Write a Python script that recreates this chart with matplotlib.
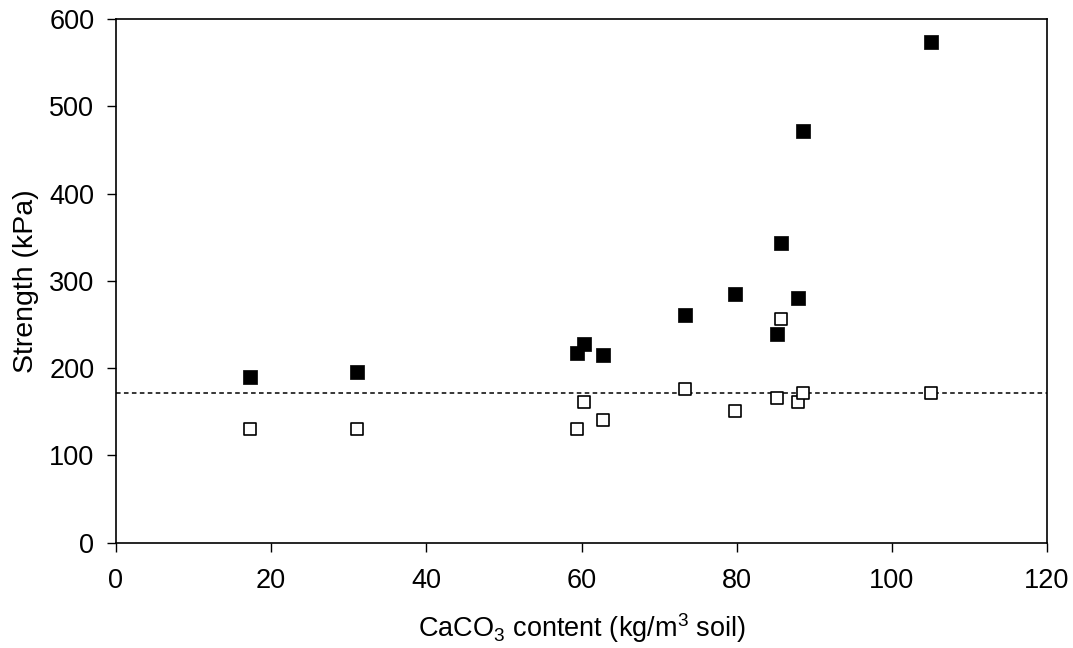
import matplotlib
matplotlib.use("Agg")
import matplotlib.pyplot as plt

plt.rcParams['font.family'] = ['Liberation Sans', 'DejaVu Sans']
plt.rcParams['mathtext.default'] = 'regular'

# CaCO3 content (kg/m3 soil)
caco3 = [17.3, 31.0, 59.4, 60.3, 62.8, 73.4, 79.8, 85.2, 85.7, 87.9, 88.5, 105.1]
# Strength (kPa) - filled squares
strength_filled = [190, 196, 217, 228, 215, 261, 285, 239, 343, 280, 472, 574]
# Strength (kPa) - open squares
strength_open = [130, 130, 130, 161, 141, 176, 151, 166, 256, 161, 171, 171]
# Horizontal dashed reference level
ref_level = 171

x_ticks = [0, 20, 40, 60, 80, 100, 120]
y_ticks = [0, 100, 200, 300, 400, 500, 600]

fig = plt.figure(figsize=(10.73, 6.48), dpi=100)
ax = fig.add_axes([0.1081, 0.1625, 0.8677, 0.8082])

ax.axhline(ref_level, color='black', linestyle=(0, (3, 2.2)), linewidth=1.1, zorder=1)
ax.scatter(caco3, strength_open, marker='s', s=78, facecolor='white',
           edgecolor='black', linewidth=1.2, zorder=3)
ax.scatter(caco3, strength_filled, marker='s', s=92, facecolor='black',
           edgecolor='black', linewidth=0.5, zorder=4)

ax.set_xlim(0, 120)
ax.set_ylim(0, 600)
ax.set_xticks(x_ticks)
ax.set_yticks(y_ticks)
ax.tick_params(axis='both', direction='out', length=6.5, width=1, labelsize=19.5)
ax.tick_params(axis='y', pad=9)
ax.tick_params(axis='x', pad=12)
for s in ax.spines.values():
    s.set_linewidth(1.2)

ax.set_xlabel('CaCO$_3$ content (kg/m$^3$ soil)', fontsize=19.5, labelpad=12)
ax.set_ylabel('Strength (kPa)', fontsize=20.5, labelpad=7)

fig.savefig('out.png', dpi=100, facecolor='white')
